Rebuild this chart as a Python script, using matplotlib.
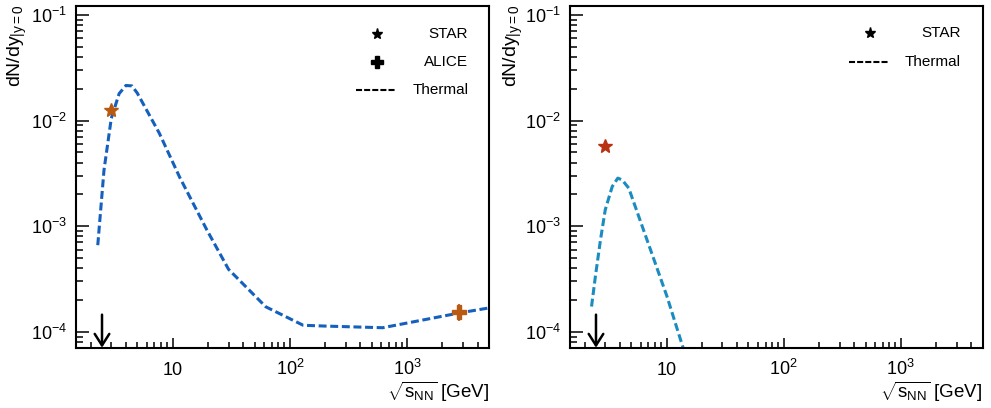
import numpy as np
import matplotlib
matplotlib.use("Agg")
import matplotlib.pyplot as plt
from matplotlib.ticker import FixedLocator, FixedFormatter, LogLocator, NullFormatter
from matplotlib.lines import Line2D

plt.rcParams['font.family'] = ['Liberation Sans', 'DejaVu Sans']
plt.rcParams['mathtext.fontset'] = 'custom'
plt.rcParams['mathtext.rm'] = 'Liberation Sans'
plt.rcParams['mathtext.it'] = 'Liberation Sans:italic'
plt.rcParams['mathtext.bf'] = 'Liberation Sans:bold'
plt.rcParams['mathtext.sf'] = 'Liberation Sans'
plt.rcParams['axes.unicode_minus'] = True

# ---------------- data ----------------
# left panel
thermal_left_x = [2.3, 2.6, 3.0, 3.5, 4.0, 4.5, 5.0, 7.7, 11.5, 19.6, 30.0, 62.4, 130.0, 200.0, 620.0, 2760.0, 5020.0]
thermal_left_y = [6.6e-4, 3.4e-3, 1.05e-2, 1.8e-2, 2.15e-2, 2.13e-2, 1.82e-2, 7.6e-3, 2.9e-3, 9.2e-4, 3.9e-4, 1.72e-4, 1.15e-4, 1.13e-4, 1.09e-4, 1.5e-4, 1.68e-4]
star_left_x = [3.0]
star_left_y = [1.26e-2]
alice_x = [2760.0]
alice_y = [1.545e-4]
alice_err = [0.29e-4]

# right panel
thermal_right_x = [2.29, 2.47, 2.73, 3.0, 3.44, 3.84, 4.18, 4.76, 5.8, 7.3, 10.1, 13.6, 19.6]
thermal_right_y = [1.73e-4, 3.33e-4, 7.4e-4, 1.43e-3, 2.37e-3, 2.85e-3, 2.74e-3, 2.29e-3, 1.23e-3, 5.97e-4, 2.15e-4, 7.5e-5, 2.2e-5]
star_right_x = [3.0]
star_right_y = [5.75e-3]

arrow_x = 2.5
arrow_y_top = 1.45e-4

x_ticks = [10, 100, 1000]
x_ticklabels = ['10', r'$10^{2}$', r'$10^{3}$']
y_ticks = [1e-4, 1e-3, 1e-2, 1e-1]
y_ticklabels = [r'$10^{-4}$', r'$10^{-3}$', r'$10^{-2}$', r'$10^{-1}$']

xlim = (1.5, 5000)
ylim = (7.05e-5, 0.1217)

# ---------------- figure ----------------
W, H = 991, 408
fig = plt.figure(figsize=(W / 100, H / 100), dpi=100)

def px_axes(x0, x1, ytop, ybot):
    return fig.add_axes([x0 / W, (H - ybot) / H, (x1 - x0) / W, (ybot - ytop) / H])

axL = px_axes(76, 489, 6, 347.7)
axR = px_axes(570, 982.7, 6, 347.7)

def style_axes(ax):
    ax.set_xscale('log')
    ax.set_yscale('log')
    ax.set_xlim(*xlim)
    ax.set_ylim(*ylim)
    for s in ax.spines.values():
        s.set_linewidth(1.5)
    ax.xaxis.set_major_locator(FixedLocator(x_ticks))
    ax.xaxis.set_major_formatter(FixedFormatter(x_ticklabels))
    ax.yaxis.set_major_locator(FixedLocator(y_ticks))
    ax.yaxis.set_major_formatter(FixedFormatter(y_ticklabels))
    ax.xaxis.set_minor_locator(LogLocator(base=10, subs=np.arange(2, 10), numticks=20))
    ax.yaxis.set_minor_locator(LogLocator(base=10, subs=np.arange(2, 10), numticks=20))
    ax.xaxis.set_minor_formatter(NullFormatter())
    ax.yaxis.set_minor_formatter(NullFormatter())
    ax.tick_params(axis='both', which='both', direction='in', top=False, right=False, width=1.1)
    ax.tick_params(axis='x', which='major', length=7.5, labelsize=13, pad=19.5)
    ax.tick_params(axis='x', which='minor', length=4)
    ax.tick_params(axis='y', which='major', length=9.5, labelsize=13, pad=6.5)
    ax.tick_params(axis='y', which='minor', length=5)
    for t in ax.xaxis.get_major_ticks():
        t.label1.set_verticalalignment('baseline')
    ax.annotate('', xy=(arrow_x, ylim[0]), xytext=(arrow_x, arrow_y_top),
                arrowprops=dict(arrowstyle='->,head_length=0.55,head_width=0.35', lw=1.8,
                                color='black', shrinkA=0, shrinkB=0, mutation_scale=15),
                annotation_clip=False)

style_axes(axL)
style_axes(axR)

dash = (0, (2.6, 1.2))
axL.plot(thermal_left_x, thermal_left_y, color='#1560bd', lw=2.2, linestyle=dash)
axL.plot(star_left_x, star_left_y, marker='*', color='#b85a12', ms=10, ls='none', zorder=5)
axL.errorbar(alice_x, alice_y, yerr=alice_err, fmt='P', color='#b85a12', ms=10,
             elinewidth=1.2, capsize=0, zorder=5)

axR.plot(thermal_right_x, thermal_right_y, color='#1a8cc0', lw=2.2, linestyle=dash)
axR.plot(star_right_x, star_right_y, marker='*', color='#b83212', ms=10, ls='none', zorder=5)

# axis titles
for ax in (axL, axR):
    ax.set_xlabel(r'$\sqrt{\mathrm{s}_{\mathrm{NN}}}$ [GeV]', fontsize=13.5, ha='right')
    ax.xaxis.set_label_coords(1.0, -0.095)
    ax.xaxis.label.set_verticalalignment('top')

fig.text(6 / W, 1 - 4 / H, r'dN/dy$\left|_{\mathrm{y=0}}\right.$', rotation=90, ha='left', va='top', fontsize=14)
fig.text(502 / W, 1 - 4 / H, r'dN/dy$\left|_{\mathrm{y=0}}\right.$', rotation=90, ha='left', va='top', fontsize=14)

# legends
def leg_marker(ax, x, y, marker, ms):
    ax.plot([x], [y], marker=marker, color='black', ms=ms, ls='none', transform=ax.transAxes, clip_on=False)

def leg_line(ax, x0, x1, y):
    ax.add_line(Line2D([x0, x1], [y, y], color='black', lw=1.5, linestyle=(0, (2.9, 1.0)),
                       transform=ax.transAxes, clip_on=False))

def leg_text(ax, x, y, s):
    ax.text(x, y, s, transform=ax.transAxes, ha='right', va='center', fontsize=11)

leg_marker(axL, 0.7293, 0.9181, '*', 8)
leg_text(axL, 0.9499, 0.9181, 'STAR')
leg_marker(axL, 0.7293, 0.8370, 'P', 9)
leg_text(axL, 0.9499, 0.8370, 'ALICE')
leg_line(axL, 0.678, 0.7748, 0.7542)
leg_text(axL, 0.9499, 0.7542, 'Thermal')

leg_marker(axR, 0.7269, 0.9201, '*', 8)
leg_text(axR, 0.9467, 0.9201, 'STAR')
leg_line(axR, 0.676, 0.773, 0.837)
leg_text(axR, 0.9467, 0.837, 'Thermal')

fig.savefig('out.png', dpi=100)
